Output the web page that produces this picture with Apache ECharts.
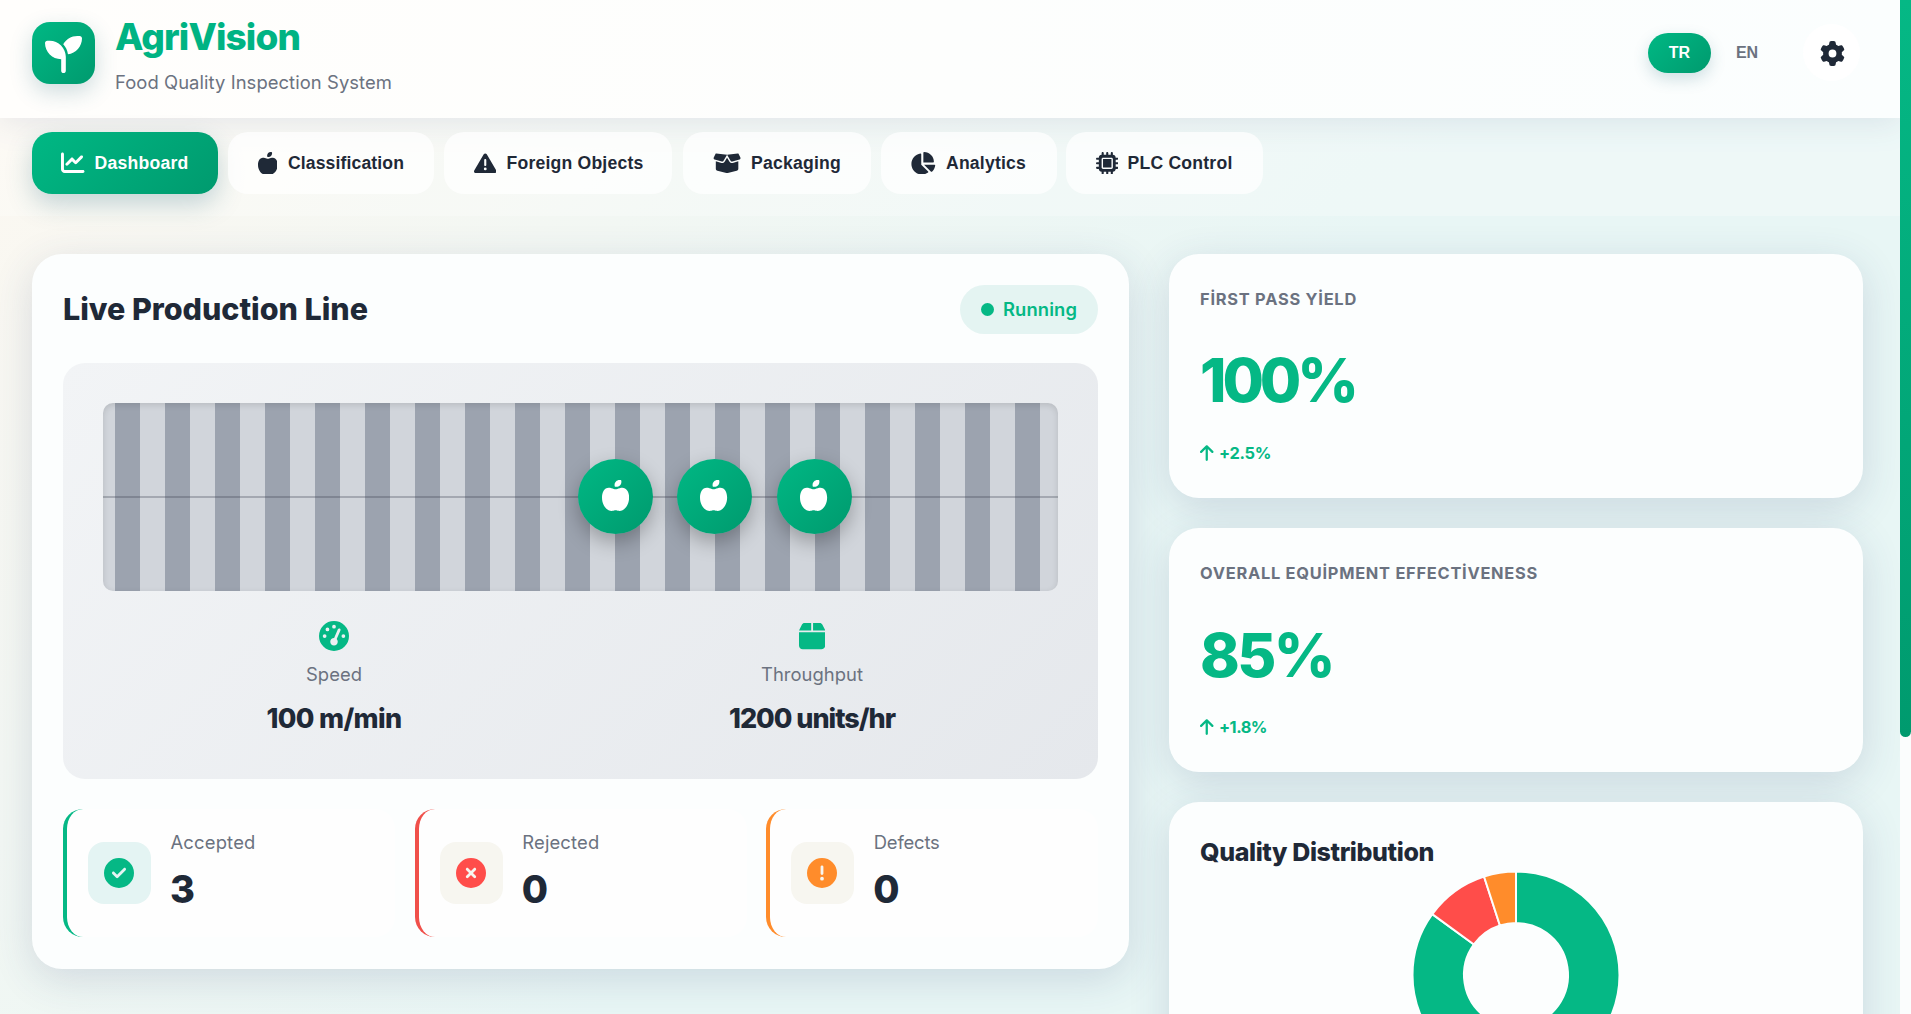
<!DOCTYPE html>
<html lang="en"><head><meta charset="utf-8"><title>AgriVision</title>
<script src="https://cdn.jsdelivr.net/npm/echarts@6/dist/echarts.min.js"></script>
<style>
html,body{margin:0;padding:0;width:1911px;height:1014px;overflow:hidden}
body{background:linear-gradient(135deg,#fdf8f1 0%,#e8f6f5 55%,#e8f6f5 100%);font-family:Inter,sans-serif;color:#1f2937;position:relative}
.a{position:absolute;box-sizing:border-box}
.t{position:absolute;white-space:nowrap;line-height:1}
svg{position:absolute;display:block}
.green{background:linear-gradient(135deg,#00b884,#009a6e)}
.card{background:#fcfefe;border-radius:30px;box-shadow:0 10px 40px rgba(50,70,120,.16)}
</style></head><body>
<div id="root"></div>
<div id="chart" class="a" style="left:1200px;top:825px;width:632px;height:300px"></div>
<script>
var navLabels=["Dashboard","Classification","Foreign Objects","Packaging","Analytics","PLC Control"];
var kpiLabels=["FİRST PASS YİELD","OVERALL EQUİPMENT EFFECTİVENESS"];
var kpiValues=["100%","85%"];
var kpiChanges=["+2.5%","+1.8%"];
var statLabels=["Speed","Throughput"];
var statValues=["100 m/min","1200 units/hr"];
var countLabels=["Accepted","Rejected","Defects"];
var countValues=[3,0,0];
var qualityNames=["Good","Rejected","Defects"];
var qualityValues=[85,10,5];
var qualityColors=["#05b885","#ff4d4a","#ff8c2b"];

var P={
line:[512,512,"M64 64c0-17.7-14.3-32-32-32S0 46.3 0 64V400c0 44.2 35.8 80 80 80H480c17.7 0 32-14.3 32-32s-14.3-32-32-32H80c-8.8 0-16-7.2-16-16V64zm406.6 86.6c12.5-12.5 12.5-32.8 0-45.3s-32.8-12.5-45.3 0L320 210.7l-57.4-57.4c-12.5-12.5-32.8-12.5-45.3 0l-112 112c-12.5 12.5-12.5 32.8 0 45.3s32.8 12.5 45.3 0L240 221.3l57.4 57.4c12.5 12.5 32.8 12.5 45.3 0l128-128z"],
apple:[448,512,"M224 112c-8.8 0-16-7.2-16-16V80c0-44.2 35.8-80 80-80h16c8.8 0 16 7.2 16 16V32c0 44.2-35.8 80-80 80H224zM0 288c0-76.3 35.7-160 112-160c27.3 0 59.7 10.3 82.7 19.3c18.8 7.3 39.9 7.3 58.7 0c22.9-8.9 55.4-19.3 82.6-19.3c76.3 0 112 83.7 112 160c0 128-80 224-160 224c-16.5 0-38.1-6.6-51.5-11.3c-8.1-2.8-16.9-2.8-25 0c-13.4 4.7-35 11.3-51.5 11.3C80 512 0 416 0 288z"],
warn:[512,512,"M256 32c14.2 0 27.3 7.5 34.5 19.8l216 368c7.3 12.4 7.3 27.7 .2 40.1S486.3 480 472 480H40c-14.3 0-27.6-7.7-34.7-20.1s-7-27.8 .2-40.1l216-368C228.7 39.5 241.8 32 256 32zm0 128c-13.3 0-24 10.7-24 24V296c0 13.3 10.7 24 24 24s24-10.7 24-24V184c0-13.3-10.7-24-24-24zm32 224a32 32 0 1 0 -64 0 32 32 0 1 0 64 0z"],
boxopen:[640,512,"M58.9 42.1c3-6.1 9.6-9.6 16.3-8.7L320 64 564.8 33.4c6.7-.8 13.3 2.7 16.3 8.7l41.7 83.4c9 17.9-.6 39.6-19.8 45.1L439.6 217.3c-13.9 4-28.8-1.9-36.2-14.3L320 64 236.6 203c-7.4 12.4-22.3 18.3-36.2 14.3L37.1 170.6c-19.3-5.5-28.8-27.2-19.8-45.1L58.9 42.1zM321.1 128l54.9 91.4c14.9 24.8 44.6 36.6 72.5 28.6L576 211.6v167c0 22-15 41.2-36.4 46.6l-204.1 51c-10.2 2.6-20.9 2.6-31 0l-204.1-51C79 419.7 64 400.5 64 378.5v-167L191.6 248c27.8 8 57.6-3.8 72.5-28.6L318.9 128h2.2z"],
pie:[576,512,"M304 240V16.6c0-9 7-16.6 16-16.6C443.7 0 544 100.3 544 224c0 9-7.6 16-16.6 16H304zM32 272C32 150.7 122.1 50.3 239 34.3c9.2-1.3 17 6.1 17 15.4V288L412.5 444.5c6.7 6.7 6.2 17.7-1.5 23.1C371.8 495.6 323.8 512 272 512C139.5 512 32 404.6 32 272zm526.4 16c9.3 0 16.6 7.8 15.4 17c-7.7 55.9-34.6 105.6-73.9 142.3c-6 5.6-15.4 5.2-21.2-.7L320 288H558.4z"],
chip:[512,512,"M176 24c0-13.3-10.7-24-24-24s-24 10.7-24 24V64c-35.3 0-64 28.7-64 64H24c-13.3 0-24 10.7-24 24s10.7 24 24 24H64v56H24c-13.3 0-24 10.7-24 24s10.7 24 24 24H64v56H24c-13.3 0-24 10.7-24 24s10.7 24 24 24H64c0 35.3 28.7 64 64 64v40c0 13.3 10.7 24 24 24s24-10.7 24-24V448h56v40c0 13.3 10.7 24 24 24s24-10.7 24-24V448h56v40c0 13.3 10.7 24 24 24s24-10.7 24-24V448c35.3 0 64-28.7 64-64h40c13.3 0 24-10.7 24-24s-10.7-24-24-24H448V280h40c13.3 0 24-10.7 24-24s-10.7-24-24-24H448V176h40c13.3 0 24-10.7 24-24s-10.7-24-24-24H448c0-35.3-28.7-64-64-64V24c0-13.3-10.7-24-24-24s-24 10.7-24 24V64H280V24c0-13.3-10.7-24-24-24s-24 10.7-24 24V64H176V24zM160 128H352c17.7 0 32 14.3 32 32V352c0 17.7-14.3 32-32 32H160c-17.7 0-32-14.3-32-32V160c0-17.7 14.3-32 32-32zm192 32H160V352H352V160z"],
gear:[512,512,"M495.9 166.6c3.2 8.7 .5 18.4-6.4 24.6l-43.3 39.4c1.1 8.3 1.7 16.8 1.7 25.4s-.6 17.1-1.7 25.4l43.3 39.4c6.9 6.2 9.6 15.9 6.4 24.6c-4.4 11.9-9.7 23.3-15.8 34.3l-4.7 8.1c-6.6 11-14 21.4-22.1 31.2c-5.9 7.2-15.7 9.6-24.5 6.8l-55.7-17.7c-13.4 10.3-28.2 18.9-44 25.4l-12.5 57.1c-2 9.1-9 16.3-18.2 17.8c-13.8 2.3-28 3.5-42.5 3.5s-28.7-1.2-42.5-3.5c-9.2-1.5-16.2-8.7-18.2-17.8l-12.5-57.1c-15.8-6.5-30.6-15.1-44-25.4L83.1 425.9c-8.8 2.8-18.6 .3-24.5-6.8c-8.1-9.8-15.5-20.2-22.1-31.2l-4.7-8.1c-6.1-11-11.4-22.4-15.8-34.3c-3.2-8.7-.5-18.4 6.4-24.6l43.3-39.4C64.6 273.1 64 264.6 64 256s.6-17.1 1.7-25.4L22.4 191.2c-6.9-6.2-9.6-15.9-6.4-24.6c4.4-11.9 9.7-23.3 15.8-34.3l4.7-8.1c6.6-11 14-21.4 22.1-31.2c5.9-7.2 15.7-9.6 24.5-6.8l55.7 17.7c13.4-10.3 28.2-18.9 44-25.4l12.5-57.1c2-9.1 9-16.3 18.2-17.8C227.3 1.2 241.5 0 256 0s28.7 1.2 42.5 3.5c9.2 1.5 16.2 8.7 18.2 17.8l12.5 57.1c15.8 6.5 30.6 15.1 44 25.4l55.7-17.7c8.8-2.8 18.6-.3 24.5 6.8c8.1 9.8 15.5 20.2 22.1 31.2l4.7 8.1c6.1 11 11.4 22.4 15.8 34.3zM256 336a80 80 0 1 0 0-160 80 80 0 1 0 0 160z"],
seed:[512,512,"M512 32c0 113.6-84.6 207.5-194.2 222c-7.1-53.4-30.6-101.6-65.3-139.3C290.8 46.3 364 0 448 0h32c17.7 0 32 14.3 32 32zM0 96C0 78.3 14.3 64 32 64H64c123.7 0 224 100.3 224 224v32V480c0 17.7-14.3 32-32 32s-32-14.3-32-32V320C100.3 320 0 219.7 0 96z"],
gauge:[512,512,"M0 256a256 256 0 1 1 512 0A256 256 0 1 1 0 256zM288 96a32 32 0 1 0 -64 0 32 32 0 1 0 64 0zM256 416c35.3 0 64-28.7 64-64c0-17.4-6.9-33.1-18.1-44.6L366 161.7c5.3-12.1-.2-26.3-12.3-31.6s-26.3 .2-31.6 12.3L257.9 288c-.6 0-1.3 0-1.9 0c-35.3 0-64 28.7-64 64s28.7 64 64 64zM176 144a32 32 0 1 0 -64 0 32 32 0 1 0 64 0zM96 288a32 32 0 1 0 0-64 32 32 0 1 0 0 64zm352-32a32 32 0 1 0 -64 0 32 32 0 1 0 64 0z"],
box:[448,512,"M50.7 58.5L0 160H208V32H93.7C75.5 32 58.9 42.3 50.7 58.5zM240 160H448L397.3 58.5C389.1 42.3 372.5 32 354.3 32H240V160zm208 32H0V416c0 35.3 28.7 64 64 64H384c35.3 0 64-28.7 64-64V192z"],
check:[512,512,"M256 512A256 256 0 1 0 256 0a256 256 0 1 0 0 512zM369 209L241 337c-9.4 9.4-24.6 9.4-33.9 0l-64-64c-9.4-9.4-9.4-24.6 0-33.9s24.6-9.4 33.9 0l47 47L335 175c9.4-9.4 24.6-9.4 33.9 0s9.4 24.6 0 33.9z"],
xmark:[512,512,"M256 512A256 256 0 1 0 256 0a256 256 0 1 0 0 512zM175 175c9.4-9.4 24.6-9.4 33.9 0l47 47 47-47c9.4-9.4 24.6-9.4 33.9 0s9.4 24.6 0 33.9l-47 47 47 47c9.4 9.4 9.4 24.6 0 33.9s-24.6 9.4-33.9 0l-47-47-47 47c-9.4 9.4-24.6 9.4-33.9 0s-9.4-24.6 0-33.9l47-47-47-47c-9.4-9.4-9.4-24.6 0-33.9z"],
excl:[512,512,"M256 512A256 256 0 1 0 256 0a256 256 0 1 0 0 512zm0-384c13.3 0 24 10.7 24 24V264c0 13.3-10.7 24-24 24s-24-10.7-24-24V152c0-13.3 10.7-24 24-24zM224 352a32 32 0 1 1 64 0 32 32 0 1 1 -64 0z"],
up:[384,512,"M214.6 41.4c-12.5-12.5-32.8-12.5-45.3 0l-160 160c-12.5 12.5-12.5 32.8 0 45.3s32.8 12.5 45.3 0L160 141.2V448c0 17.7 14.3 32 32 32s32-14.3 32-32V141.2L329.4 246.6c12.5 12.5 32.8 12.5 45.3 0s12.5-32.8 0-45.3l-160-160z"]
};
var root=document.getElementById('root');
var GREEN='#05b885',DARK='#1f2937',GREY='#6b7280';
function box(l,t,w,h,css,cls){var d=document.createElement('div');d.className='a '+(cls||'');d.style.cssText='left:'+l+'px;top:'+t+'px;width:'+w+'px;height:'+h+'px;'+(css||'');root.appendChild(d);return d}
function icon(name,cx,cy,size,color,css){var p=P[name],w=size*p[0]/p[1];var s=document.createElementNS('http://www.w3.org/2000/svg','svg');s.setAttribute('viewBox','0 0 '+p[0]+' '+p[1]);s.setAttribute('width',w);s.setAttribute('height',size);s.style.cssText='left:'+(cx-w/2)+'px;top:'+(cy-size/2)+'px;'+(css||'');var q=document.createElementNS('http://www.w3.org/2000/svg','path');q.setAttribute('d',p[2]);q.setAttribute('fill',color);s.appendChild(q);root.appendChild(s)}
function txt(s,x,cy,size,weight,color,w,center,font){var d=document.createElement('div');d.className='t';d.textContent=s;d.style.cssText='left:'+x+'px;top:'+cy+'px;font-size:'+size+'px;font-weight:'+weight+';color:'+color+';font-family:'+(font||'Inter,sans-serif')+';transform:translate('+(center?'-50%':'0')+',-50%);';root.appendChild(d);if(w){var m=d.getBoundingClientRect().width;d.style.letterSpacing=((w-m)/s.length)+'px'}return d}

// header
box(0,0,1900,118,'background:linear-gradient(90deg,#fffefc,#fbfefe);box-shadow:0 4px 30px rgba(50,70,120,.15);z-index:0');
box(0,118,1900,98,'background:rgba(255,255,255,.25)');
box(32,22,63,62,'border-radius:18px;box-shadow:0 8px 22px rgba(30,100,120,.22)','green');
icon('seed',63,54,37,'#fff');
txt('AgriVision',115,36,37,800,'#00b383',185);
txt('Food Quality Inspection System',115,81.5,18.4,400,GREY,277);
box(1648,33,63,40,'border-radius:20px;box-shadow:0 6px 16px rgba(30,100,120,.2)','green');
txt('TR',1679.5,53,16,700,'#fff',0,true,'Liberation Sans');
txt('EN',1747,53,16,700,GREY,0,true,'Liberation Sans');
box(1803,24,57,57,'border-radius:50%;background:#fff');
icon('gear',1832,53.5,25,DARK);

// nav
var navX=[[32,186],[228,206],[444,228],[683,188],[881,176],[1066,197]];
var navIc=['line','apple','warn','boxopen','pie','chip'];
var navIcX=[73,267.5,485,727,923,1107];
var navTx=[[94.5,94],[288,116],[506.5,137],[751,90],[946,80],[1127.5,105]];
navLabels.forEach(function(s,i){var act=i==0;
 box(navX[i][0],132,navX[i][1],62,'border-radius:20px;'+(act?'box-shadow:0 10px 26px rgba(30,100,120,.25)':'background:rgba(255,255,255,.72)'),act?'green':'');
 icon(navIc[i],navIcX[i],163,i==0?23.5:22.5,act?'#fff':DARK);
 txt(s,navTx[i][0],164,17.6,700,act?'#fff':DARK,navTx[i][1],false,'Liberation Sans');
});

// main card
box(32,254,1097,715,'','card');
txt('Live Production Line',63,308.5,30.5,800,DARK,305);
box(960,285,138,49,'border-radius:25px;background:#e4f4f2');
box(980.5,303,13,13,'border-radius:50%;background:'+GREEN);
txt('Running',1003,309,18.4,600,GREEN,74);
box(63,363,1035,416,'border-radius:22px;background:linear-gradient(135deg,#f2f4f6,#e5e8ec)');
box(103,403,955,188,'border-radius:10px;overflow:hidden;background:repeating-linear-gradient(90deg,#d1d5db 0,#d1d5db 12px,#9ca3af 12px,#9ca3af 37px,#d1d5db 37px,#d1d5db 50px);box-shadow:inset 0 2px 6px rgba(0,0,0,.12)');
box(103,495.5,955,2.5,'background:rgba(60,65,80,.3)');
[615.5,714,814].forEach(function(x){box(x-37.5,459,75,75,'border-radius:50%;box-shadow:0 8px 20px rgba(0,0,0,.28)','green');icon('apple',x,495.5,31,'#fff')});
icon('gauge',334,636,30,GREEN);icon('box',812,636,30,GREEN);
txt(statLabels[0],334,674,18.4,400,GREY,56,true);
txt(statLabels[1],812,674,18.4,400,GREY,102,true);
txt(statValues[0],334,717.5,27,800,DARK,135,true);
txt(statValues[1],812,717.5,27,800,DARK,166,true);
// counters
var cX=[63,414.8,766.2],cCol=['#05b885','#f0504a','#ff8c2b'],cIc=['check','xmark','excl'],cBg=['#e4f4f3','#f7f6f0','#f7f6f0'],cLW=[85,77,66];
countLabels.forEach(function(s,i){var x=cX[i];
 box(x,809,332,128,'border-radius:20px;background:#fefefe;border-left:4px solid '+cCol[i]);
 box(x+25,842,63,62,'border-radius:16px;background:'+cBg[i]);
 icon(cIc[i],x+56,873,30,qualityColors[i]);
 txt(s,x+107.5,842,18.4,400,GREY,cLW[i]);
 txt(String(countValues[i]),x+107,889,38,800,DARK);
});

// KPI cards
box(1169,254,694,244,'','card');box(1169,528,694,244,'','card');box(1169,802,694,300,'','card');
[0,1].forEach(function(i){var o=i*274.5,o2=i*273.5;
 txt(kpiLabels[i],1200,299+o2,16.4,700,GREY,i==0?157:338);
 txt(kpiValues[i],1200,380+o,60,800,GREEN,i==0?155:133);
 icon('up',1207,453+o2,18,GREEN);
 txt(kpiChanges[i],1219,453+o2,16.4,700,GREEN,i==0?52:48);
});
txt('Quality Distribution',1200,851.5,25,800,DARK,234);
root.lastChild.style.zIndex=3;

// scrollbar
box(1900,0,11,1014,'background:#fbfdfd;z-index:5');
box(1900,0,11,737,'border-radius:0 0 6px 6px;z-index:6;background:linear-gradient(180deg,#05b885,#009a6e)');

var chartEl=document.getElementById('chart');chartEl.style.zIndex=3;
var chart=echarts.init(chartEl,null,{renderer:'canvas'});
chart.setOption({animation:false,tooltip:{show:false},series:[{type:'pie',center:['50%',150],radius:[52,103.5],startAngle:90,clockwise:true,silent:true,label:{show:false},labelLine:{show:false},
 itemStyle:{borderColor:'#fcfefe',borderWidth:2},
 data:qualityValues.map(function(v,i){return{name:qualityNames[i],value:v,itemStyle:{color:qualityColors[i]}}})}]});
</script></body></html>
